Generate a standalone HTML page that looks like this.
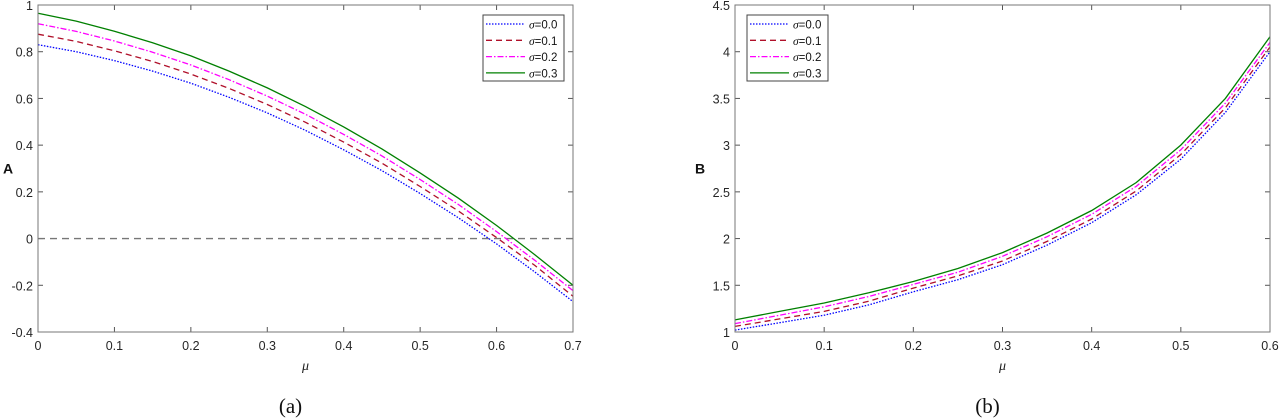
<!DOCTYPE html>
<html><head><meta charset="utf-8"><style>
html,body{margin:0;padding:0;background:#fff;}
svg{display:block;font-family:"Liberation Sans",sans-serif;}
</style></head><body>
<svg id="fig" width="1280" height="420" viewBox="0 0 1280 420"></svg>
<script>
const muA = [0,0.05,0.1,0.15,0.2,0.25,0.3,0.35,0.4,0.45,0.5,0.55,0.6,0.65,0.7];
const A_s0 = [0.83,0.80,0.762,0.717,0.665,0.605,0.538,0.463,0.380,0.291,0.193,0.089,-0.023,-0.143,-0.27];
const A_s1 = [0.875,0.844,0.804,0.758,0.704,0.643,0.574,0.498,0.413,0.323,0.223,0.118,0.004,-0.115,-0.247];
const A_s2 = [0.92,0.887,0.846,0.798,0.743,0.680,0.610,0.532,0.446,0.354,0.253,0.146,0.030,-0.093,-0.223];
const A_s3 = [0.965,0.931,0.888,0.838,0.782,0.717,0.645,0.565,0.478,0.384,0.281,0.173,0.056,-0.069,-0.2];
const muB = [0,0.05,0.1,0.15,0.2,0.25,0.3,0.35,0.4,0.45,0.5,0.55,0.6];
const B_s0 = [1.02,1.10,1.18,1.29,1.43,1.56,1.72,1.93,2.17,2.47,2.85,3.35,4.00];
const B_s1 = [1.06,1.14,1.22,1.33,1.47,1.60,1.76,1.97,2.21,2.51,2.90,3.40,4.05];
const B_s2 = [1.09,1.18,1.27,1.38,1.51,1.64,1.81,2.02,2.26,2.56,2.95,3.45,4.10];
const B_s3 = [1.13,1.22,1.31,1.42,1.54,1.68,1.85,2.06,2.30,2.60,3.00,3.50,4.16];
const xTicksA = [0,0.1,0.2,0.3,0.4,0.5,0.6,0.7];
const yTicksA = [-0.4,-0.2,0,0.2,0.4,0.6,0.8,1];
const xTicksB = [0,0.1,0.2,0.3,0.4,0.5,0.6];
const yTicksB = [1,1.5,2,2.5,3,3.5,4,4.5];
const legendLabels = ["0.0","0.1","0.2","0.3"];

const NS="http://www.w3.org/2000/svg";
const svg=document.getElementById('fig');
function mk(tag,attrs,parent){const e=document.createElementNS(NS,tag);for(const k in attrs)e.setAttribute(k,attrs[k]);(parent||svg).appendChild(e);return e;}
const styles=[
 {stroke:"#0000ff",dash:"1.5,1.5"},
 {stroke:"#b0102a",dash:"6,4"},
 {stroke:"#ff00ff",dash:"6,2,1.5,2"},
 {stroke:"#008000",dash:""}
];
function panel(cfg){
  const g=mk('g',{});
  
  
  const sx=v=>cfg.x0+(v-cfg.xmin)/(cfg.xmax-cfg.xmin)*(cfg.x1-cfg.x0);
  const sy=v=>cfg.y1-(v-cfg.ymin)/(cfg.ymax-cfg.ymin)*(cfg.y1-cfg.y0);
  cfg.xt.forEach(t=>{
    const x=sx(t);
    const l1=mk('line',{x1:x,x2:x,y1:cfg.y1,y2:cfg.y1-5,stroke:"#555"},g);
    
    mk('line',{x1:x,x2:x,y1:cfg.y0,y2:cfg.y0+5,stroke:"#555"},g);
    const tx=mk('text',{x:x,y:cfg.y1+18,'text-anchor':'middle','font-size':12.5,fill:"#262626"},g);
    
    tx.textContent=String(t);
  });
  cfg.yt.forEach(t=>{
    const y=sy(t);
    mk('line',{x1:cfg.x0,x2:cfg.x0+5,y1:y,y2:y,stroke:"#555"},g);
    mk('line',{x1:cfg.x1,x2:cfg.x1-5,y1:y,y2:y,stroke:"#555"},g);
    const tx=mk('text',{x:cfg.x0-5,y:y+5,'text-anchor':'end','font-size':12.5,fill:"#262626"},g);
    
    tx.textContent=String(t);
  });
  if(cfg.zero){
    const z=mk('line',{x1:cfg.x0,x2:cfg.x1,y1:sy(0),y2:sy(0),stroke:"#777",'stroke-width':1.3,'stroke-dasharray':"7,5"},g);
    
  }
  cfg.series.forEach((s,i)=>{
    const d=s.map((v,j)=>(j?'L':'M')+sx(cfg.mu[j]).toFixed(1)+','+sy(v).toFixed(1)).join(' ');
    const p=mk('path',{d:d,fill:'none',stroke:styles[i].stroke,'stroke-width':1.3,'stroke-dasharray':styles[i].dash},g);
    
    
  });
  const box=mk('rect',{x:cfg.x0,y:cfg.y0,width:cfg.x1-cfg.x0,height:cfg.y1-cfg.y0,fill:'none',stroke:'#777','stroke-width':1},g);
  
  const lg=mk('g',{},g);
  
  mk('rect',{x:cfg.lx,y:15,width:81,height:66,fill:'#fff',stroke:'#444','stroke-width':1},lg);
  legendLabels.forEach((lab,i)=>{
    const y=24+i*16.3;
    const e=mk('g',{},lg);
    
    mk('line',{x1:cfg.lx+3,x2:cfg.lx+42,y1:y,y2:y,stroke:styles[i].stroke,'stroke-width':1.3,'stroke-dasharray':styles[i].dash},e);
    const t=mk('text',{x:cfg.lx+46,y:y+4.5,'font-size':11.5,fill:'#111'},e);
    t.innerHTML='<tspan font-family="Liberation Serif" font-style="italic">σ</tspan>='+lab;
  });
  const yl=mk('text',{x:cfg.ylx,y:(cfg.y0+cfg.y1)/2+5,'font-size':14,'font-weight':'bold',fill:'#111','text-anchor':'middle'},g);
  
  yl.textContent=cfg.ylab;
  const xl=mk('text',{x:(cfg.x0+cfg.x1)/2,y:370,'font-size':14,'font-style':'italic','font-family':'Liberation Serif',fill:'#222','text-anchor':'middle'},g);
  
  xl.textContent='μ';
  const cap=mk('text',{x:(cfg.x0+cfg.x1)/2-15,y:413,'font-size':21,'font-family':'Liberation Serif',fill:'#111','text-anchor':'middle'},g);
  
  cap.textContent=cfg.cap;
}
panel({name:'panel-a',x0:38,x1:573,y0:5,y1:332,xmin:0,xmax:0.7,ymin:-0.4,ymax:1,xt:xTicksA,yt:yTicksA,mu:muA,series:[A_s0,A_s1,A_s2,A_s3],zero:true,lx:483,ylx:8,ylab:'A',cap:'(a)'});
panel({name:'panel-b',x0:735,x1:1270,y0:5,y1:332,xmin:0,xmax:0.6,ymin:1,ymax:4.5,xt:xTicksB,yt:yTicksB,mu:muB,series:[B_s0,B_s1,B_s2,B_s3],zero:false,lx:747,ylx:700,ylab:'B',cap:'(b)'});
</script>
</body></html>
